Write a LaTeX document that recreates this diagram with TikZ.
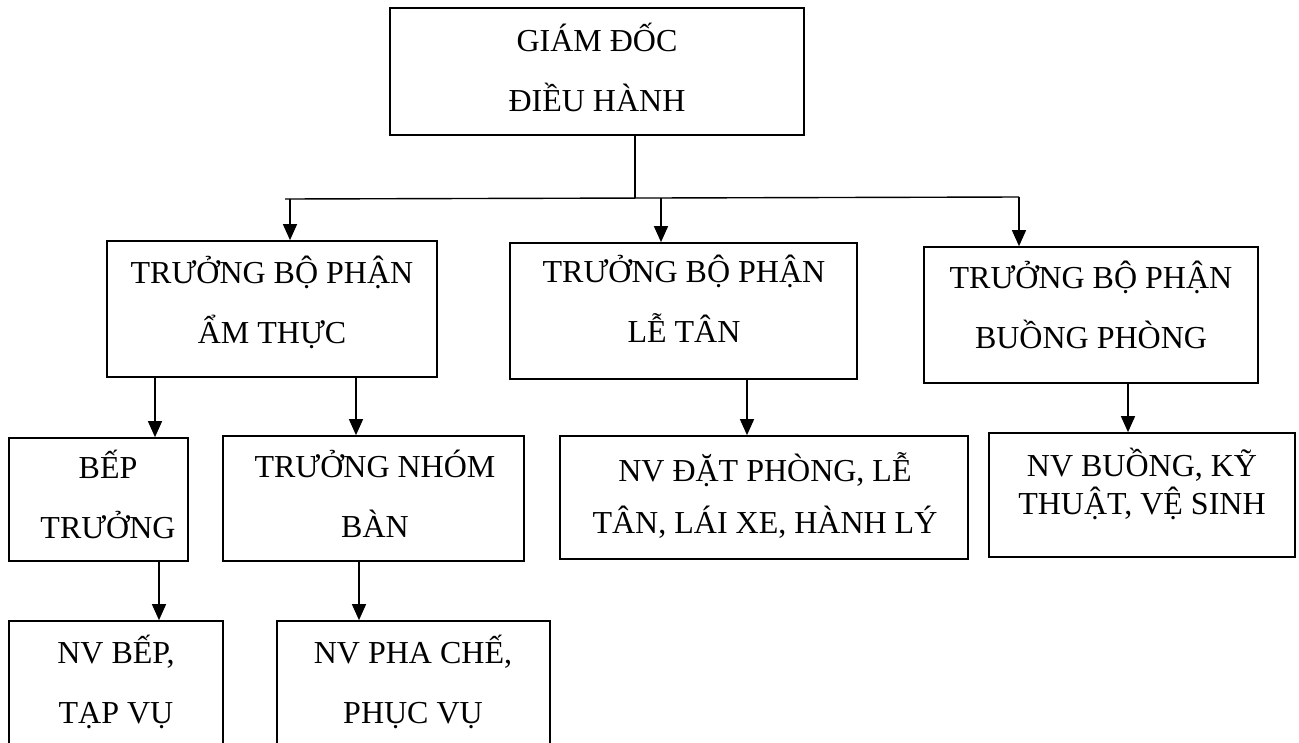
\documentclass[tikz,border=0pt]{standalone}
\usepackage{fontspec}
\setmainfont{Liberation Serif}
\usetikzlibrary{arrows.meta}

% two-line label whose reference point is the baseline of the first line
\newcommand{\twolines}[3]{{\fontsize{32}{#1}\selectfont
  \begin{tabular}[t]{@{}c@{}}#2\\#3\end{tabular}}}

\begin{document}
\begin{tikzpicture}[x=1pt,y=-1pt,
  orgbox/.style={draw=black,line width=1.7pt,inner sep=0pt,fill=white},
  lbl/.style={anchor=base,inner sep=0pt},
  link/.style={line width=1.4pt,black},
  arr/.style={link,-{Triangle[length=16pt,width=14pt]}}]
\useasboundingbox (0,0) rectangle (1299,742);
\fill[white] (0,0) rectangle (1299,742);
\clip (0,0) rectangle (1299,742);

% boxes
\node[orgbox,minimum width=414pt,minimum height=127pt] (gd) at (597,71.5) {};
\node[orgbox,minimum width=330pt,minimum height=136pt] (amthuc) at (272,309) {};
\node[orgbox,minimum width=347pt,minimum height=136pt] (letan) at (683.5,311) {};
\node[orgbox,minimum width=334pt,minimum height=136pt] (buong) at (1091,315) {};
\node[orgbox,minimum width=179pt,minimum height=123pt] (bep) at (98.5,499.5) {};
\node[orgbox,minimum width=301pt,minimum height=125pt] (ban) at (373.5,498.5) {};
\node[orgbox,minimum width=408pt,minimum height=123pt] (nvlt) at (764,497.5) {};
\node[orgbox,minimum width=306pt,minimum height=124pt] (nvbp) at (1142,495) {};
\node[orgbox,minimum width=214pt,minimum height=179pt] (nvbep) at (116,710.5) {};
\node[orgbox,minimum width=273pt,minimum height=179pt] (nvpc) at (413.5,710.5) {};

% labels
\node[lbl] (tgd) at (597,51) {\twolines{60pt}{GIÁM ĐỐC}{ĐIỀU HÀNH}};
\node[lbl] (tamthuc) at (272,283) {\twolines{60pt}{TRƯỞNG BỘ PHẬN}{ẨM THỰC}};
\node[lbl] (tletan) at (684,282) {\twolines{60pt}{TRƯỞNG BỘ PHẬN}{LỄ TÂN}};
\node[lbl] (tbuong) at (1091,288) {\twolines{60pt}{TRƯỞNG BỘ PHẬN}{BUỒNG PHÒNG}};
\node[lbl] (tbep) at (108,478) {\twolines{60pt}{BẾP}{TRƯỞNG}};
\node[lbl] (tban) at (375,477) {\twolines{60pt}{TRƯỞNG NHÓM}{BÀN}};
\node[lbl] (tnvlt) at (765,481) {\twolines{52pt}{NV ĐẶT PHÒNG, LỄ}{TÂN, LÁI XE, HÀNH LÝ}};
\node[lbl] (tnvbp) at (1142,476) {\twolines{38pt}{NV BUỒNG, KỸ}{THUẬT, VỆ SINH}};
\node[lbl] (tnvbep) at (116,663) {\twolines{60pt}{NV BẾP,}{TẠP VỤ}};
\node[lbl] (tnvpc) at (413,663) {\twolines{60pt}{NV PHA CHẾ,}{PHỤC VỤ}};

% distribution bar under the director
\coordinate (j) at (635,198);
\coordinate (hl) at (285,199);
\coordinate (hr) at (1019,197);
\draw[link] (gd.south -| j) -- (j);
\draw[link] (hl) -- (hr);
\draw[arr] (290,199) -- (amthuc.north -| 290,0);
\draw[arr] (661,198) -- (letan.north -| 661,0);
\draw[arr] (hr) -- (buong.north -| hr);

% department heads to their teams
\draw[arr] (amthuc.south -| 155,0) -- (bep.north -| 155,0);
\draw[arr] (amthuc.south -| 356,0) -- (ban.north -| 356,0);
\draw[arr] (letan.south -| 747,0) -- (nvlt.north -| 747,0);
\draw[arr] (buong.south -| 1128,0) -- (nvbp.north -| 1128,0);
\draw[arr] (bep.south -| 159,0) -- (nvbep.north -| 159,0);
\draw[arr] (ban.south -| 359,0) -- (nvpc.north -| 359,0);
\end{tikzpicture}
\end{document}
